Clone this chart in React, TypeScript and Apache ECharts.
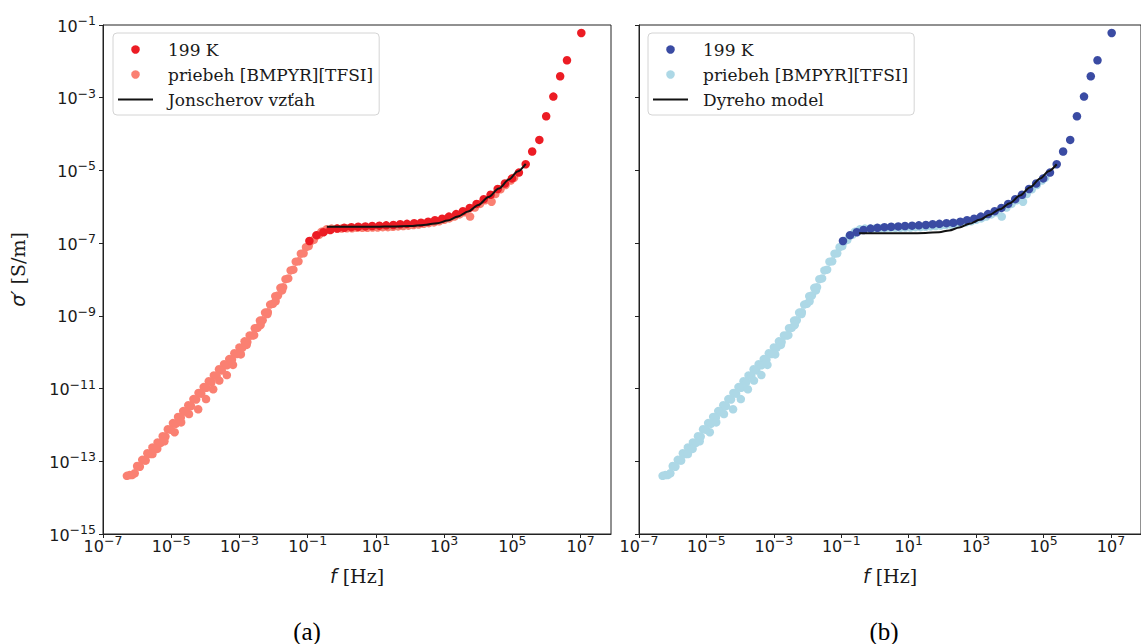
import { useEffect, useRef } from 'react';
import * as echarts from 'echarts';

// All values are decade exponents: log10(f / Hz) and log10(sigma' / (S/m)).
const xTickExps = [-7, -5, -3, -1, 1, 3, 5, 7];
const yTickExps = [-15, -13, -11, -9, -7, -5, -3, -1];

// 199 K measurement
const logF199 = [-0.95, -0.74, -0.54, -0.34, -0.13, 0.07, 0.28, 0.48, 0.69, 0.89, 1.10, 1.30, 1.51, 1.71, 1.91, 2.12, 2.32, 2.53, 2.73, 2.94, 3.14, 3.35, 3.55, 3.75, 3.95, 4.16, 4.36, 4.57, 4.78, 4.99, 5.19, 5.39, 5.58, 5.79, 5.99, 6.20, 6.40, 6.60, 7.02];
const logS199 = [-6.94, -6.78, -6.70, -6.64, -6.60, -6.58, -6.56, -6.55, -6.54, -6.53, -6.52, -6.51, -6.50, -6.48, -6.47, -6.45, -6.44, -6.41, -6.37, -6.33, -6.27, -6.20, -6.12, -6.03, -5.92, -5.79, -5.67, -5.51, -5.36, -5.22, -5.06, -4.83, -4.48, -4.16, -3.51, -2.97, -2.41, -1.97, -1.22];

// priebeh [BMPYR][TFSI] (trend) – upper band, second band row, lower points, plateau
const trendMainLogF = [-6.30, -6.15, -6.00, -5.85, -5.70, -5.55, -5.40, -5.25, -5.10, -4.95, -4.80, -4.65, -4.50, -4.35, -4.20, -4.05, -3.90, -3.75, -3.60, -3.45, -3.30, -3.15, -3.00, -2.85, -2.70, -2.55, -2.40, -2.25, -2.10, -1.95, -1.80, -1.65, -1.50, -1.35, -1.20, -1.05, -0.90, -0.75, -0.60];
const trendMainLogS = [-13.40, -13.38, -13.13, -12.96, -12.78, -12.62, -12.48, -12.31, -12.12, -11.95, -11.78, -11.62, -11.46, -11.29, -11.12, -10.96, -10.80, -10.64, -10.47, -10.33, -10.19, -10.03, -9.87, -9.70, -9.54, -9.34, -9.13, -8.91, -8.69, -8.46, -8.23, -7.99, -7.75, -7.51, -7.29, -7.11, -6.94, -6.80, -6.69];
const trendRow2LogF = [-6.22, -6.07, -5.92, -5.77, -5.62, -5.47, -5.32, -5.17, -5.02, -4.87, -4.72, -4.57, -4.42, -4.27, -4.12, -3.97, -3.82, -3.67, -3.52, -3.37, -3.22, -3.07, -2.92, -2.77, -2.62, -2.47, -2.32, -2.17, -2.02, -1.87, -1.72, -1.57, -1.42, -1.27, -1.12, -0.97, -0.82, -0.67, -0.52];
const trendRow2LogS = [-13.38, -13.33, -13.15, -12.97, -12.80, -12.65, -12.50, -12.32, -12.13, -11.97, -11.80, -11.64, -11.48, -11.30, -11.14, -10.98, -10.82, -10.65, -10.50, -10.36, -10.21, -10.05, -9.88, -9.72, -9.54, -9.33, -9.12, -8.90, -8.67, -8.44, -8.21, -7.97, -7.73, -7.50, -7.28, -7.08, -6.91, -6.77, -6.68];
const trendLowLogF = [-5.75, -5.55, -5.41, -5.20, -4.90, -4.71, -4.48, -4.21, -3.98, -3.77, -3.59, -3.37, -3.19, -2.96, -2.79, -2.57, -2.38, -2.18, -1.94, -1.75];
const trendLowLogS = [-12.98, -12.80, -12.66, -12.45, -12.20, -11.93, -11.70, -11.57, -11.29, -11.02, -10.78, -10.63, -10.35, -10.06, -9.80, -9.53, -9.25, -8.95, -8.60, -8.30];
const trendPlateauLogF = [-0.45, -0.30, -0.15, 0.00, 0.15, 0.30, 0.45, 0.60, 0.75, 0.90, 1.05, 1.20, 1.35, 1.50, 1.65, 1.80, 1.95, 2.10, 2.25, 2.40, 2.55, 2.70, 2.85, 3.00, 3.15, 3.30, 3.45, 3.60, 3.76, 3.90, 4.05, 4.20, 4.39, 4.50, 4.65, 4.80, 4.95, 5.05];
const trendPlateauLogS = [-6.62, -6.60, -6.60, -6.60, -6.59, -6.59, -6.58, -6.58, -6.58, -6.57, -6.57, -6.56, -6.56, -6.55, -6.54, -6.53, -6.52, -6.50, -6.49, -6.47, -6.45, -6.43, -6.40, -6.36, -6.32, -6.27, -6.21, -6.15, -6.27, -6.02, -5.92, -5.82, -5.86, -5.65, -5.52, -5.40, -5.28, -5.20];

// Jonscher fit (a)
const logFJonscher = [-0.44, 0.0, 0.5, 1.0, 1.5, 2.0, 2.4, 2.8, 3.1, 3.4, 3.7, 4.0, 4.3, 4.6, 4.9, 5.15, 5.39];
const logSJonscher = [-6.55, -6.55, -6.55, -6.55, -6.54, -6.53, -6.50, -6.45, -6.38, -6.27, -6.13, -5.95, -5.73, -5.50, -5.25, -5.03, -4.82];

// Dyre model (b)
const logFDyre = [-0.47, 0.0, 0.5, 1.0, 1.5, 1.9, 2.2, 2.5, 2.8, 3.1, 3.4, 3.7, 4.0, 4.3, 4.6, 4.9, 5.15, 5.39];
const logSDyre = [-6.73, -6.73, -6.73, -6.73, -6.72, -6.70, -6.65, -6.57, -6.47, -6.36, -6.22, -6.07, -5.90, -5.69, -5.46, -5.22, -5.02, -4.83];

const NAME_199 = '199 K';
const NAME_TREND = 'priebeh [BMPYR][TFSI]';
const NAME_JON = 'Jonscherov vzťah';
const NAME_DYRE = 'Dyreho model';

const RED = '#ec1c24';
const SALMON = '#fa8072';
const BLUE = '#3a4ba3';
const LIGHTBLUE = '#add8e6';
const LINE = '#111111';
const AXIS = '#222222';
const TEXT = '#1a1a1a';

const X_MIN = -7;
const X_MAX = 7.89;
const Y_MIN = -15;
const Y_MAX = -1;

const pts = (xs: number[], ys: number[]) => xs.map((x, i) => [x, ys[i]]);

const pow10 = (v: number) => `{b|10}{s|${v < 0 ? '\u2212' : ''}${Math.abs(Math.round(v))}}`;

const tickRich = {
  b: { fontFamily: 'DejaVu Sans', fontSize: 16, color: TEXT, verticalAlign: 'bottom', lineHeight: 18 },
  s: { fontFamily: 'DejaVu Sans', fontSize: 12.5, color: TEXT, verticalAlign: 'bottom', lineHeight: 18, padding: [0, 0, 7, 0] },
};

const nameRich = {
  i: { fontFamily: 'DejaVu Sans', fontStyle: 'italic', fontSize: 19, color: TEXT },
  n: { fontFamily: 'DejaVu Serif', fontSize: 19, color: TEXT },
};

const LEGEND_LINE_ICON = 'path://M0 0H35V2H0Z';

export default function App() {
  const ref = useRef<HTMLDivElement>(null);

  useEffect(() => {
    document.body.style.margin = '0';
    if (!ref.current) return;
    const chart = echarts.init(ref.current, undefined, { renderer: 'svg' });

    const grids = [
      { left: 103, top: 25, width: 508, height: 509 },
      { left: 639, top: 25, width: 508, height: 509 },
    ].map((g) => ({ ...g, show: true, borderColor: AXIS, borderWidth: 1, backgroundColor: 'transparent' }));

    const xAxis = [0, 1].map((gi) => ({
      type: 'value',
      gridIndex: gi,
      min: X_MIN,
      max: X_MAX,
      axisLine: { show: true, onZero: false, lineStyle: { color: AXIS, width: 1 } },
      axisTick: { show: true, inside: false, length: 4, customValues: xTickExps, lineStyle: { color: AXIS } },
      axisLabel: { show: true, customValues: xTickExps, formatter: (v: number) => pow10(v), margin: 2, rich: tickRich },
      splitLine: { show: false },
      name: '{i|f}{n| [Hz]}',
      nameLocation: 'middle',
      nameGap: 32,
      nameTextStyle: { rich: nameRich },
    }));

    const yAxis = [0, 1].map((gi) => ({
      type: 'value',
      gridIndex: gi,
      min: Y_MIN,
      max: Y_MAX,
      axisLine: { show: true, onZero: false, lineStyle: { color: AXIS, width: 1 } },
      axisTick: { show: true, inside: false, length: 4, customValues: yTickExps, lineStyle: { color: AXIS } },
      axisLabel: { show: gi === 0, customValues: yTickExps, formatter: (v: number) => pow10(v), margin: 7, rich: tickRich },
      splitLine: { show: false },
      name: gi === 0 ? '{i|σ′}{n| [S/m]}' : '',
      nameLocation: 'middle',
      nameGap: 76,
      nameRotate: 90,
      nameTextStyle: { rich: nameRich, padding: [0, 0, 0, 20] },
    }));

    const trendPts = [
      ...pts(trendMainLogF, trendMainLogS),
      ...pts(trendRow2LogF, trendRow2LogS),
      ...pts(trendLowLogF, trendLowLogS),
      ...pts(trendPlateauLogF, trendPlateauLogS),
    ];
    const pts199 = pts(logF199, logS199);

    const scatter = (name: string, gi: number, data: number[][], color: string, z: number) => ({
      type: 'scatter',
      name,
      xAxisIndex: gi,
      yAxisIndex: gi,
      data,
      symbol: 'circle',
      symbolSize: 8.5,
      itemStyle: { color, opacity: 1 },
      z,
      silent: true,
    });
    const line = (name: string, gi: number, data: number[][]) => ({
      type: 'line',
      name,
      xAxisIndex: gi,
      yAxisIndex: gi,
      data,
      symbol: 'none',
      showSymbol: false,
      smooth: 0.3,
      smoothMonotone: 'x',
      lineStyle: { color: LINE, width: 2 },
      itemStyle: { color: LINE },
      z: 5,
      silent: true,
    });

    const legendBase = {
      orient: 'vertical',
      top: 33,
      padding: [4, 6, 3, 5],
      itemGap: 0,
      itemWidth: 35,
      itemHeight: 8.5,
      selectedMode: false,
      borderColor: '#d4d4d4',
      borderWidth: 1,
      borderRadius: 4,
      backgroundColor: 'rgba(255,255,255,0.8)',
      textStyle: { fontFamily: 'DejaVu Serif', fontSize: 17, color: TEXT, lineHeight: 25, padding: [0, 0, 0, 10] },
    };

    const option = {
      animation: false,
      backgroundColor: '#ffffff',
      grid: grids,
      xAxis,
      yAxis,
      legend: [
        {
          ...legendBase,
          left: 113,
          data: [
            { name: NAME_199, icon: 'circle', itemStyle: { color: RED } },
            { name: NAME_TREND, icon: 'circle', itemStyle: { color: SALMON } },
            { name: NAME_JON, icon: LEGEND_LINE_ICON, itemStyle: { color: LINE } },
          ],
        },
        {
          ...legendBase,
          left: 648,
          data: [
            { name: NAME_199, icon: 'circle', itemStyle: { color: BLUE } },
            { name: NAME_TREND, icon: 'circle', itemStyle: { color: LIGHTBLUE } },
            { name: NAME_DYRE, icon: LEGEND_LINE_ICON, itemStyle: { color: LINE } },
          ],
        },
      ],
      series: [
        scatter(NAME_TREND, 0, trendPts, SALMON, 2),
        scatter(NAME_199, 0, pts199, RED, 3),
        line(NAME_JON, 0, pts(logFJonscher, logSJonscher)),
        scatter(NAME_TREND, 1, trendPts, LIGHTBLUE, 2),
        scatter(NAME_199, 1, pts199, BLUE, 3),
        line(NAME_DYRE, 1, pts(logFDyre, logSDyre)),
      ],
      graphic: [
        { type: 'text', x: 307, y: 631, style: { text: '(a)', font: '25px "Liberation Serif"', fill: '#000', textAlign: 'center', textVerticalAlign: 'middle', align: 'center', verticalAlign: 'middle' } },
        { type: 'text', x: 884, y: 631, style: { text: '(b)', font: '25px "Liberation Serif"', fill: '#000', textAlign: 'center', textVerticalAlign: 'middle', align: 'center', verticalAlign: 'middle' } },
      ],
    };

    chart.setOption(option as any);
    return () => chart.dispose();
  }, []);

  return <div ref={ref} style={{ width: 1141, height: 644 }} />;
}
